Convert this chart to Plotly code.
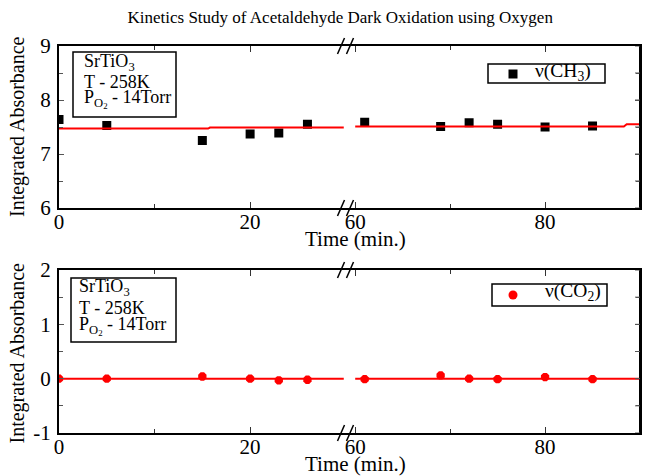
import plotly.graph_objects as go

# ---------------- data ----------------
time_min = [0, 5, 15, 20, 23, 26, 61, 69, 72, 75, 80, 85]
abs_ch3 = [7.64, 7.53, 7.25, 7.37, 7.39, 7.55, 7.59, 7.51, 7.58, 7.55, 7.50, 7.52]
abs_co2 = [0.0, 0.0, 0.04, 0.0, -0.03, -0.02, -0.01, 0.06, 0.0, -0.01, 0.03, -0.01]

fit_ch3_t_left = [0, 15.6, 15.8, 29.8]
fit_ch3_y_left = [7.47, 7.47, 7.49, 7.49]
fit_ch3_t_right = [60, 88.3, 88.6, 90]
fit_ch3_y_right = [7.51, 7.51, 7.55, 7.55]

fit_co2_t_left = [0, 29.8]
fit_co2_y_left = [0, 0]
fit_co2_t_right = [60, 90]
fit_co2_y_right = [0, 0]

left_range = [0, 30.4]
right_range = [59.4, 90]
top_yrange = [6, 9]
bot_yrange = [-1, 2]
x_ticks_left = [0, 20]
x_ticks_right = [60, 80]
y_ticks_top = [6, 7, 8, 9]
y_ticks_bot = [-1, 0, 1, 2]
y_ticktext_bot = ["-1", "0", "1", "2"]
y_minor_top = [6.5, 7.5, 8.5]
y_minor_bot = [-0.5, 0.5, 1.5]

title = "Kinetics Study of Acetaldehyde Dark Oxidation using Oxygen"
ytitle = "Integrated Absorbance"
xtitle = "Time (min.)"
legend_ch3 = "ν(CH<sub>3</sub>)"
legend_co2 = "ν(CO<sub>2</sub>)"

FONT = "Liberation Serif, Times New Roman, serif"

W, H = 648, 476
ML, MR, MT, MB = 59, 8, 46, 43
PW = W - ML - MR
PH = H - MT - MB

def pxx(x):
    return (x - ML) / PW

def pxy(y):
    return (H - MB - y) / PH

def split(ts, ys, lo, hi):
    px = [t for t in ts if lo <= t <= hi]
    py = [y for t, y in zip(ts, ys) if lo <= t <= hi]
    return px, py

fig = go.Figure()

# top panel points
for (xa, ya, rng) in [("x", "y", left_range), ("x2", "y2", right_range)]:
    px, py = split(time_min, abs_ch3, rng[0] - 1, rng[1])
    fig.add_trace(go.Scatter(x=px, y=py, mode="markers", xaxis=xa, yaxis=ya,
                             marker=dict(symbol="square", size=9, color="black"),
                             name="ν(CH3)", showlegend=False))
fig.add_trace(go.Scatter(x=fit_ch3_t_left, y=fit_ch3_y_left, mode="lines", xaxis="x", yaxis="y",
                         line=dict(color="#ff0000", width=2), showlegend=False))
fig.add_trace(go.Scatter(x=fit_ch3_t_right, y=fit_ch3_y_right, mode="lines", xaxis="x2", yaxis="y2",
                         line=dict(color="#ff0000", width=2), showlegend=False))

# bottom panel points
for (xa, ya, rng) in [("x3", "y3", left_range), ("x4", "y4", right_range)]:
    px, py = split(time_min, abs_co2, rng[0] - 1, rng[1])
    fig.add_trace(go.Scatter(x=px, y=py, mode="markers", xaxis=xa, yaxis=ya,
                             marker=dict(symbol="octagon", size=9, color="#ff0000"),
                             name="ν(CO2)", showlegend=False))
fig.add_trace(go.Scatter(x=fit_co2_t_left, y=fit_co2_y_left, mode="lines", xaxis="x3", yaxis="y3",
                         line=dict(color="#ff0000", width=2), showlegend=False))
fig.add_trace(go.Scatter(x=fit_co2_t_right, y=fit_co2_y_right, mode="lines", xaxis="x4", yaxis="y4",
                         line=dict(color="#ff0000", width=2), showlegend=False))

top_dom = [pxy(208), 1.0]
bot_dom = [0.0, pxy(270)]
tickfont = dict(family=FONT, size=21, color="black")

def xax(domain, rng, anchor, tickvals, minorvals):
    return dict(domain=domain, range=rng, anchor=anchor, showline=True, linewidth=2,
                linecolor="black", mirror="ticks", ticks="inside", ticklen=6, tickwidth=1,
                tickcolor="#333", tickvals=tickvals, showgrid=False, zeroline=False,
                tickfont=tickfont, automargin=False, ticklabelstandoff=-6,
                minor=dict(tickvals=minorvals, ticks="inside", ticklen=4, tickcolor="#333"))

def yax(domain, rng, anchor, side, labels, tickvals, ticktext):
    d = dict(domain=domain, range=rng, anchor=anchor, side=side, showline=True, linewidth=2,
             linecolor="black", mirror=False, ticks="inside", ticklen=5, tickwidth=1,
             tickcolor="#555", tickvals=tickvals,
             showgrid=False, zeroline=False, automargin=False,
             showticklabels=labels, tickfont=tickfont, ticklabelstandoff=2,
             minor=dict(dtick=0.5, ticks="inside", ticklen=4, tickcolor="#555"))
    if ticktext is not None:
        d["ticktext"] = ticktext
    return d

fig.update_layout(
    width=W, height=H,
    margin=dict(l=ML, r=MR, t=MT, b=MB),
    plot_bgcolor="white", paper_bgcolor="white",
    font=dict(family=FONT, color="black"),
    showlegend=False,
    title=dict(text=title, x=0.525, xref="container", xanchor="center",
               y=1 - 17 / H, yref="container", yanchor="middle",
               font=dict(family=FONT, size=17, color="black")),
    xaxis=xax([0, 0.5], left_range, "y", x_ticks_left, [10]),
    xaxis2=xax([0.5, 1], right_range, "y2", x_ticks_right, [70]),
    xaxis3=xax([0, 0.5], left_range, "y3", x_ticks_left, [10]),
    xaxis4=xax([0.5, 1], right_range, "y4", x_ticks_right, [70]),
    yaxis=yax(top_dom, top_yrange, "x", "left", True, y_ticks_top, [str(v) for v in y_ticks_top]),
    yaxis2=yax(top_dom, top_yrange, "x2", "right", False, y_ticks_top, None),
    yaxis3=yax(bot_dom, bot_yrange, "x3", "left", True, y_ticks_bot, y_ticktext_bot),
    yaxis4=yax(bot_dom, bot_yrange, "x4", "right", False, y_ticks_bot, None),
)

ann = []
shapes = []

# right-hand frame with its inside ticks
for yref, ticks in [("y2", y_ticks_top + y_minor_top), ("y4", y_ticks_bot + y_minor_bot)]:
    shapes.append(dict(type="line", xref="paper", yref=yref + " domain", x0=1, x1=1, y0=0, y1=1,
                       line=dict(color="black", width=2)))
    for v in ticks:
        shapes.append(dict(type="line", xref="paper", yref=yref, xsizemode="pixel",
                           xanchor=1, x0=-5, x1=0, y0=v, y1=v,
                           line=dict(color="#555", width=1)))

# axis titles as annotations
for yc in [pxy(127), pxy(353.5)]:
    ann.append(dict(text=ytitle, xref="paper", yref="paper", x=pxx(17), y=yc, textangle=-90,
                    showarrow=False, xanchor="center", yanchor="middle",
                    font=dict(family=FONT, size=20, color="black")))
for yc in [pxy(239), pxy(464.5)]:
    ann.append(dict(text=xtitle, xref="paper", yref="paper", x=pxx(355), y=yc, showarrow=False,
                    xanchor="center", yanchor="middle",
                    font=dict(family=FONT, size=21, color="black")))

# info boxes
box_lines = ["SrTiO<sub>3</sub>", "T - 258K", "P<sub>O<sub>2</sub></sub> - 14Torr"]
for (bx0, bx1, by0, by1, tx, ys) in [
        (73, 176, 117, 52, 82, [62, 81.5, 99]),
        (71, 176, 342, 278, 77, [287, 307.5, 326])]:
    shapes.append(dict(type="rect", xref="paper", yref="paper", x0=pxx(bx0), x1=pxx(bx1),
                       y0=pxy(by0), y1=pxy(by1),
                       line=dict(color="black", width=1.5), fillcolor="rgba(0,0,0,0)"))
    for line, yy in zip(box_lines, ys):
        ann.append(dict(text=line, xref="paper", yref="paper", x=pxx(tx), y=pxy(yy), showarrow=False,
                        xanchor="left", yanchor="middle",
                        font=dict(family=FONT, size=18, color="black")))

# legend boxes (one per panel)
for (bx0, bx1, by0, by1, mx, my, mtype, mcol, tx, ty, label) in [
        (488, 605, 83, 64, 513, 74, "rect", "black", 533, 71.5, legend_ch3),
        (492, 607, 306, 284, 513, 295, "circle", "#ff0000", 543, 292, legend_co2)]:
    shapes.append(dict(type="rect", xref="paper", yref="paper", x0=pxx(bx0), x1=pxx(bx1),
                       y0=pxy(by0), y1=pxy(by1),
                       line=dict(color="black", width=1.5), fillcolor="white"))
    shapes.append(dict(type=mtype, xref="paper", yref="paper", xsizemode="pixel", ysizemode="pixel",
                       xanchor=pxx(mx), yanchor=pxy(my), x0=-4.5, x1=4.5, y0=-4.5, y1=4.5,
                       line=dict(width=0), fillcolor=mcol))
    ann.append(dict(text=label, xref="paper", yref="paper", x=pxx(tx), y=pxy(ty), showarrow=False,
                    xanchor="left", yanchor="middle",
                    font=dict(family=FONT, size=19.5, color="black")))

# axis break marks
for yedge in [top_dom[0], top_dom[1], bot_dom[0], bot_dom[1]]:
    for off in [-9, 0]:
        shapes.append(dict(type="line", xref="paper", yref="paper",
                           xsizemode="pixel", ysizemode="pixel",
                           xanchor=0.5, yanchor=yedge,
                           x0=off - 3, x1=off + 4, y0=-8, y1=8,
                           line=dict(color="black", width=1.5)))

fig.update_layout(annotations=ann, shapes=shapes)
fig.write_html("out.html", config={"displayModeBar": False},
               post_script="document.body.style.margin='0';"
                           "document.documentElement.style.overflow='hidden';"
                           "document.body.style.overflow='hidden';")
